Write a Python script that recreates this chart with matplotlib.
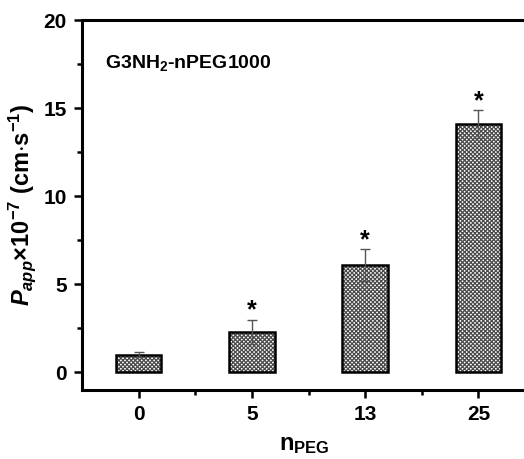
import matplotlib
matplotlib.use("Agg")
import matplotlib.pyplot as plt
from matplotlib.ticker import MultipleLocator

categories = ["0", "5", "13", "25"]
values = [1.0, 2.3, 6.1, 14.1]
errors = [0.15, 0.7, 0.9, 0.8]
significant = [False, True, True, True]

plt.rcParams['font.family'] = ['Liberation Sans', 'DejaVu Sans']
plt.rcParams['font.weight'] = 'bold'
plt.rcParams['mathtext.fontset'] = 'custom'
plt.rcParams['mathtext.rm'] = 'Liberation Sans:bold'
plt.rcParams['mathtext.bf'] = 'Liberation Sans:bold'
plt.rcParams['mathtext.it'] = 'Liberation Sans:bold:italic'
plt.rcParams['mathtext.sf'] = 'Liberation Sans:bold'
plt.rcParams['hatch.linewidth'] = 0.9

fig = plt.figure(figsize=(5.24, 4.59), dpi=100)
W, H = 524, 459
left, right = 82, 535
top, bottom = 20, 390
ax = fig.add_axes([left / W, 1 - bottom / H, (right - left) / W, (bottom - top) / H])

x = list(range(len(categories)))
ax.bar(x, values, width=0.4, color='white', edgecolor='#4a4a4a', hatch='xxxxxxxx', linewidth=0, zorder=2)
ax.bar(x, values, width=0.4, facecolor='none', edgecolor='black', linewidth=1.8, zorder=3)
ax.errorbar(x, values, yerr=errors, fmt='none', ecolor='#555555', elinewidth=1.0, capsize=3.3, capthick=1.0, zorder=4)
for xi, v, e, s in zip(x, values, errors, significant):
    if s:
        ax.text(xi, v + e + 0.5, '*', ha='center', va='center', fontsize=18, fontweight='bold')

ax.set_xlim(-0.5, 3.5)
ax.set_ylim(-1, 20)
ax.set_xticks(x)
ax.set_xticklabels(categories)
ax.set_xticks([0.5, 1.5, 2.5], minor=True)
ax.yaxis.set_major_locator(MultipleLocator(5))
ax.yaxis.set_minor_locator(MultipleLocator(2.5))
ax.tick_params(axis='both', which='major', direction='out', length=6, width=1.8, labelsize=15, pad=5)
ax.tick_params(axis='both', which='minor', direction='out', length=3.5, width=1.8)
for lab in ax.get_xticklabels() + ax.get_yticklabels():
    lab.set_fontweight('bold')
for sp in ax.spines.values():
    sp.set_linewidth(2.2)

ax.text(0.05, 0.885, r'G3NH$_{\mathregular{2}}$-nPEG1000', transform=ax.transAxes, fontsize=14, fontweight='bold', ha='left', va='center')
ax.set_ylabel(r'$\mathit{P}_{\mathit{app}}$$\mathregular{\times 10^{-7}}$ (cm$\cdot$s$^{\mathregular{-1}}$)', fontsize=17, fontweight='bold')
ax.yaxis.set_label_coords(-0.097, 0.5)
ax.set_xlabel(r'n$_{\mathregular{PEG}}$', fontsize=17, fontweight='bold')
ax.xaxis.set_label_coords(0.49, -0.115)

fig.savefig('out.png', dpi=100)
